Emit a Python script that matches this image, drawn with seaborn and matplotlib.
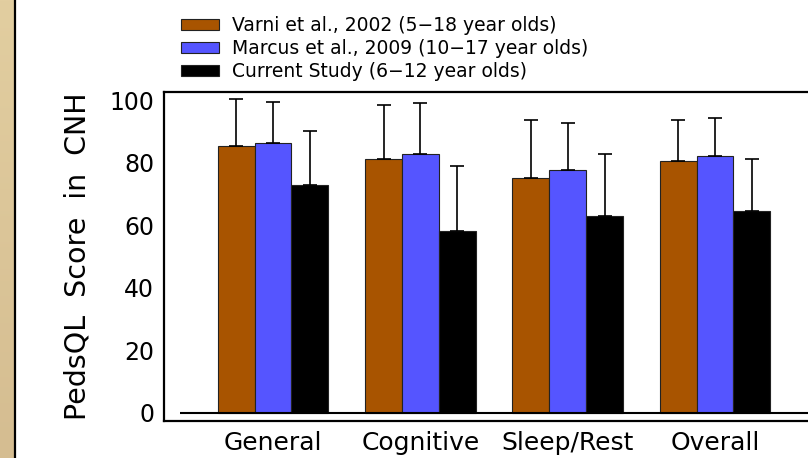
import numpy as np
import pandas as pd
import matplotlib
matplotlib.use("Agg")
import matplotlib.pyplot as plt
import seaborn as sns
from matplotlib.patches import Patch

# Domain scores (mean and SD) for each study
domains = ["General", "Cognitive", "Sleep/Rest", "Overall"]
studies = [
    "Varni et al., 2002 (5\u221218 year olds)",
    "Marcus et al., 2009 (10\u221217 year olds)",
    "Current Study (6\u221212 year olds)",
]
varni_mean = [85.3, 81.2, 75.0, 80.5]
varni_sd = [15.0, 17.4, 18.7, 13.2]
marcus_mean = [86.4, 82.7, 77.5, 82.1]
marcus_sd = [13.1, 16.3, 15.2, 12.2]
current_mean = [72.9, 58.2, 62.8, 64.6]
current_sd = [17.3, 20.7, 19.9, 16.5]
y_ticks = [0, 20, 40, 60, 80, 100]

colors = ["#A85400", "#5555FF", "#000000"]

means = [varni_mean, marcus_mean, current_mean]
sds = [varni_sd, marcus_sd, current_sd]
df = pd.DataFrame({
    "domain": np.tile(domains, 3),
    "study": np.repeat(studies, 4),
    "score": np.concatenate(means),
    "sd": np.concatenate(sds),
})

sns.set_theme(style="white")
plt.rcParams["font.family"] = ["DejaVu Sans"]
plt.rcParams["text.color"] = "black"

fig = plt.figure(figsize=(8.08, 4.58), dpi=100)
W, H = 808, 458

# tan side strip with a dark rule
strip = fig.add_axes([0, 0, 14 / W, 1])
grad = np.linspace(0, 1, 256)[:, None, None]
top = np.array([226, 206, 160]) / 255
bot = np.array([213, 189, 145]) / 255
strip.imshow(top * (1 - grad) + bot * grad, aspect="auto", extent=[0, 1, 0, 1])
strip.set_axis_off()
fig.add_artist(plt.Line2D([14.8 / W, 14.8 / W], [0, 1], color="black", lw=1.6,
                          transform=fig.transFigure))

left, right, topy, boty = 164, 830, 92, 421
ax = fig.add_axes([left / W, (H - boty) / H, (right - left) / W, (boty - topy) / H])

sns.barplot(data=df, x="domain", y="score", hue="study", order=domains,
            hue_order=studies, palette=colors, width=0.75, gap=0,
            edgecolor="#222222", linewidth=0.8, errorbar=None, ax=ax,
            legend=False, saturation=1)

# one-sided (upper) SD error bars
for j, study in enumerate(studies):
    sub = df[df["study"] == study].set_index("domain").loc[domains]
    xs = np.arange(len(domains)) + (j - 1) * 0.25
    ax.errorbar(xs, sub["score"], yerr=[np.zeros(len(xs)), sub["sd"]],
                fmt="none", ecolor="black", elinewidth=1.2, capsize=5,
                capthick=1.2, zorder=1)

ax.set_xlim(-0.74, 3.78)
ax.set_ylim(-2.6, 102.6)
ax.set_yticks(y_ticks)
ax.hlines(0, -0.633, 3.78, color="black", lw=1.5, zorder=3)

for s in ["left", "top", "bottom", "right"]:
    ax.spines[s].set_color("black")
    ax.spines[s].set_linewidth(1.6)
ax.tick_params(axis="both", length=0, labelsize=17, colors="black")
ax.tick_params(axis="x", labelsize=18, pad=7)
ax.tick_params(axis="y", pad=7)
ax.set_xlabel("")
ax.set_ylabel("PedsQL  Score  in  CNH", fontsize=20.5, color="black", labelpad=13)

handles = [Patch(facecolor=c, edgecolor="#222222", linewidth=0.8) for c in colors]
fig.legend(handles, studies, loc="upper left",
           bbox_to_anchor=(181 / W, 1 - 16 / H), frameon=False, fontsize=13.5,
           handlelength=2.0, handleheight=0.58, handletextpad=0.7,
           labelspacing=0.22, borderpad=0, borderaxespad=0, labelcolor="black")

fig.savefig("out.png", dpi=100)
